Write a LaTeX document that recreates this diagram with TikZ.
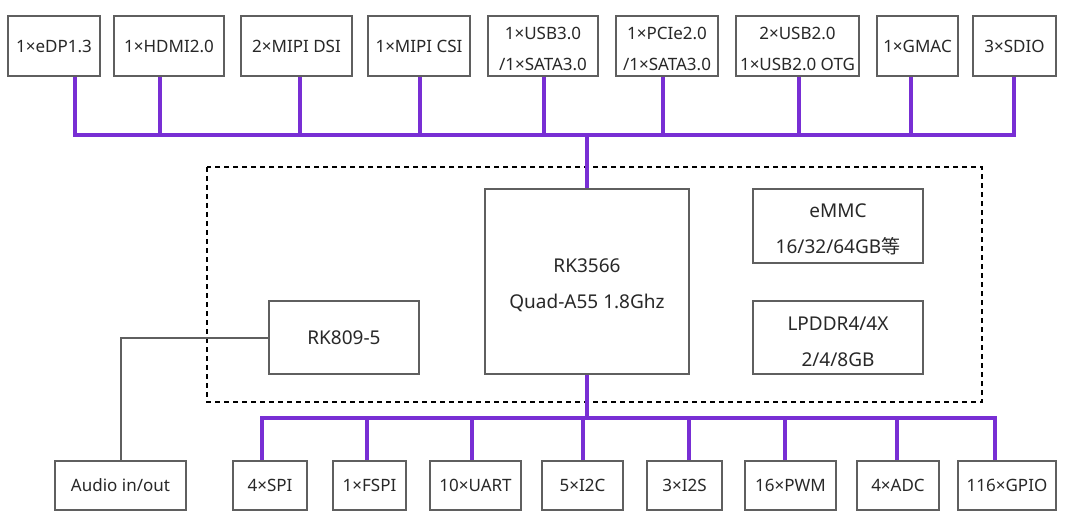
\documentclass[tikz,border=0pt]{standalone}
\usepackage{fontspec}
\setmainfont{Noto Sans}
\newfontfamily\cjk{Noto Sans CJK SC}
\definecolor{buscol}{RGB}{120,46,212}
\definecolor{boxgray}{RGB}{95,95,95}
\definecolor{textcol}{RGB}{40,40,40}
\newcommand\bx[7]{\node[box,#6,minimum width={(#4)-(#2)},minimum height={(#5)-(#3)}] (#1) at ({((#2)+(#4))/2},{((#3)+(#5))/2}) {#7};}
\newcommand\tl{\rule{0pt}{1.12em}}
\begin{document}
\begin{tikzpicture}[x=1pt,y=-1pt,
  box/.style={draw=boxgray,line width=2pt,fill=white,inner sep=0pt,align=center,text=textcol},
  small/.style={font=\fontsize{17}{31}\selectfont},
  big/.style={font=\fontsize{19}{36}\selectfont},
  busline/.style={draw=buscol,line width=4.5pt,line join=miter},
  thinline/.style={draw=boxgray,line width=2pt},
  dashbox/.style={draw=black,line width=1.6pt,dash pattern=on 5pt off 4pt}]
\useasboundingbox (0,0) rectangle (1080,524);
\draw[dashbox] (207,167) rectangle (982,402);
% top row
\bx{edp}{8}{16}{100}{76}{small}{1×eDP1.3}
\bx{hdmi}{114}{16}{224}{76}{small}{1×HDMI2.0}
\bx{dsi}{241}{16}{352}{76}{small}{2×MIPI DSI}
\bx{csi}{368}{16}{470}{76}{small}{1×MIPI CSI}
\bx{usb3}{488}{16}{598}{76}{small}{\tl 1×USB3.0\\/1×SATA3.0}
\bx{pcie}{616}{16}{718}{76}{small}{\tl 1×PCIe2.0\\/1×SATA3.0}
\bx{usb2}{736}{16}{859}{76}{small}{\tl 2×USB2.0\\1×USB2.0 OTG}
\bx{gmac}{877}{16}{958}{76}{small}{1×GMAC}
\bx{sdio}{973}{16}{1056}{76}{small}{3×SDIO}
% middle
\bx{chip}{485}{189}{689}{374}{big}{\tl RK3566\\Quad-A55 1.8Ghz}
\bx{pmu}{269}{301}{419}{374}{big}{RK809-5}
\bx{emmc}{753}{189}{923}{263}{big}{\tl eMMC\\16/32/64GB{\cjk 等}}
\bx{ddr}{753}{301}{923}{374}{big}{\tl LPDDR4/4X\\2/4/8GB}
% bottom row
\bx{audio}{55}{461}{186}{510}{small}{Audio in/out}
\bx{spi}{233}{461}{307}{510}{small}{4×SPI}
\bx{fspi}{333}{461}{406}{510}{small}{1×FSPI}
\bx{uart}{430}{461}{521}{510}{small}{10×UART}
\bx{iic}{542}{461}{623}{510}{small}{5×I2C}
\bx{iis}{647}{461}{722}{510}{small}{3×I2S}
\bx{pwm}{745}{461}{836}{510}{small}{16×PWM}
\bx{adc}{857}{461}{939}{510}{small}{4×ADC}
\bx{gpio}{958}{461}{1056}{510}{small}{116×GPIO}
% top bus
\coordinate (t1) at (75,135);
\coordinate (t2) at (160,135);
\coordinate (t3) at (300,135);
\coordinate (t4) at (420,135);
\coordinate (t5) at (544,135);
\coordinate (t6) at (663,135);
\coordinate (t7) at (799,135);
\coordinate (t8) at (911,135);
\coordinate (t9) at (1014,135);
\coordinate (tc) at (587,135);
\draw[busline] (edp.south -| t1) -- (t1) -- (t9) -- (sdio.south -| t9);
\draw[busline] (hdmi.south -| t2) -- (t2);
\draw[busline] (dsi.south -| t3) -- (t3);
\draw[busline] (csi.south -| t4) -- (t4);
\draw[busline] (usb3.south -| t5) -- (t5);
\draw[busline] (pcie.south -| t6) -- (t6);
\draw[busline] (usb2.south -| t7) -- (t7);
\draw[busline] (gmac.south -| t8) -- (t8);
\draw[busline] (tc) -- (chip.north -| tc);
% bottom bus
\coordinate (b1) at (262,418);
\coordinate (b2) at (367,418);
\coordinate (b3) at (472,418);
\coordinate (b4) at (583,418);
\coordinate (b5) at (689,418);
\coordinate (b6) at (785,418);
\coordinate (b7) at (897,418);
\coordinate (b8) at (995,418);
\coordinate (bc) at (587,418);
\draw[busline] (spi.north -| b1) -- (b1) -- (b8) -- (gpio.north -| b8);
\draw[busline] (fspi.north -| b2) -- (b2);
\draw[busline] (uart.north -| b3) -- (b3);
\draw[busline] (iic.north -| b4) -- (b4);
\draw[busline] (iis.north -| b5) -- (b5);
\draw[busline] (pwm.north -| b6) -- (b6);
\draw[busline] (adc.north -| b7) -- (b7);
\draw[busline] (chip.south -| bc) -- (bc);
% audio
\draw[thinline] (pmu.west) -| (audio.north);
\end{tikzpicture}
\end{document}
